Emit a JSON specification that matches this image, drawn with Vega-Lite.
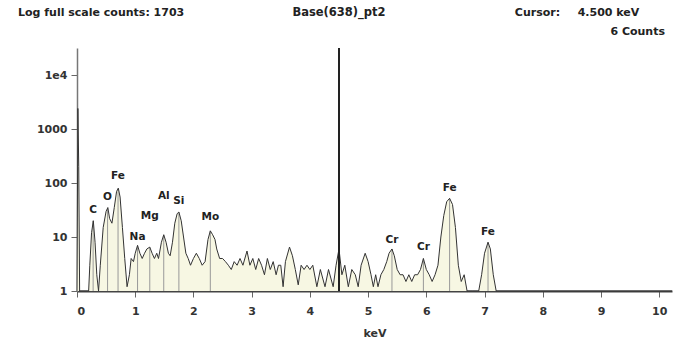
{
  "$schema": "https://vega.github.io/schema/vega-lite/v6.json",
  "width": 595,
  "height": 243,
  "autosize": {"type": "none"},
  "padding": {"left": 77, "top": 48, "right": 9, "bottom": 54},
  "background": "white",
  "config": {"view": {"stroke": null}, "font": "DejaVu Sans"},
  "datasets": {
    "spectrum": [
      {"e": 0.0, "c": 1}, {"e": 0.015, "c": 2400}, {"e": 0.03, "c": 200}, {"e": 0.045, "c": 1},
      {"e": 0.2, "c": 1}, {"e": 0.22, "c": 3}, {"e": 0.25, "c": 12}, {"e": 0.28, "c": 20}, {"e": 0.31, "c": 8},
      {"e": 0.34, "c": 2}, {"e": 0.37, "c": 1}, {"e": 0.4, "c": 3}, {"e": 0.45, "c": 15}, {"e": 0.5, "c": 30},
      {"e": 0.53, "c": 35}, {"e": 0.56, "c": 22}, {"e": 0.6, "c": 18}, {"e": 0.64, "c": 35}, {"e": 0.68, "c": 70},
      {"e": 0.71, "c": 80}, {"e": 0.74, "c": 55}, {"e": 0.78, "c": 15}, {"e": 0.82, "c": 4}, {"e": 0.86, "c": 1.2},
      {"e": 0.9, "c": 2}, {"e": 0.93, "c": 4}, {"e": 0.97, "c": 3.5}, {"e": 1.0, "c": 5}, {"e": 1.04, "c": 7},
      {"e": 1.08, "c": 5}, {"e": 1.12, "c": 4}, {"e": 1.16, "c": 5}, {"e": 1.2, "c": 6}, {"e": 1.25, "c": 6.5},
      {"e": 1.29, "c": 5}, {"e": 1.33, "c": 4}, {"e": 1.37, "c": 5}, {"e": 1.4, "c": 4}, {"e": 1.45, "c": 8},
      {"e": 1.49, "c": 11}, {"e": 1.53, "c": 8}, {"e": 1.57, "c": 5}, {"e": 1.6, "c": 4.5}, {"e": 1.64, "c": 8},
      {"e": 1.68, "c": 18}, {"e": 1.72, "c": 27}, {"e": 1.75, "c": 29}, {"e": 1.79, "c": 20}, {"e": 1.83, "c": 10},
      {"e": 1.87, "c": 5}, {"e": 1.91, "c": 4}, {"e": 1.95, "c": 3}, {"e": 2.0, "c": 4}, {"e": 2.05, "c": 5},
      {"e": 2.1, "c": 4}, {"e": 2.15, "c": 3}, {"e": 2.2, "c": 3.5}, {"e": 2.25, "c": 9}, {"e": 2.29, "c": 13},
      {"e": 2.33, "c": 11}, {"e": 2.37, "c": 9}, {"e": 2.4, "c": 6}, {"e": 2.45, "c": 4}, {"e": 2.5, "c": 4},
      {"e": 2.55, "c": 3.5}, {"e": 2.6, "c": 3}, {"e": 2.65, "c": 2.5}, {"e": 2.7, "c": 3.5}, {"e": 2.75, "c": 3},
      {"e": 2.8, "c": 4}, {"e": 2.85, "c": 3}, {"e": 2.92, "c": 5.5}, {"e": 2.97, "c": 3}, {"e": 3.02, "c": 4},
      {"e": 3.07, "c": 2.5}, {"e": 3.12, "c": 4}, {"e": 3.17, "c": 3}, {"e": 3.22, "c": 2}, {"e": 3.27, "c": 4},
      {"e": 3.32, "c": 2.5}, {"e": 3.37, "c": 3.5}, {"e": 3.42, "c": 2}, {"e": 3.46, "c": 3}, {"e": 3.5, "c": 3},
      {"e": 3.54, "c": 1.2}, {"e": 3.58, "c": 3.5}, {"e": 3.65, "c": 6.5}, {"e": 3.7, "c": 4.5}, {"e": 3.75, "c": 2.5},
      {"e": 3.8, "c": 1.3}, {"e": 3.85, "c": 3}, {"e": 3.9, "c": 2.5}, {"e": 3.95, "c": 3}, {"e": 4.0, "c": 2.5},
      {"e": 4.05, "c": 3}, {"e": 4.12, "c": 1.2}, {"e": 4.18, "c": 2.5}, {"e": 4.26, "c": 1.2}, {"e": 4.32, "c": 2.5},
      {"e": 4.4, "c": 1.2}, {"e": 4.45, "c": 3}, {"e": 4.5, "c": 6}, {"e": 4.55, "c": 2}, {"e": 4.6, "c": 3},
      {"e": 4.66, "c": 1.2}, {"e": 4.72, "c": 2.5}, {"e": 4.78, "c": 2}, {"e": 4.83, "c": 1.2}, {"e": 4.88, "c": 3},
      {"e": 4.95, "c": 5}, {"e": 5.0, "c": 3.5}, {"e": 5.05, "c": 2}, {"e": 5.09, "c": 1.2}, {"e": 5.13, "c": 2},
      {"e": 5.17, "c": 1.2}, {"e": 5.22, "c": 2}, {"e": 5.27, "c": 2.5}, {"e": 5.32, "c": 3.5}, {"e": 5.36, "c": 5},
      {"e": 5.41, "c": 6}, {"e": 5.45, "c": 4.5}, {"e": 5.5, "c": 2.5}, {"e": 5.55, "c": 2}, {"e": 5.6, "c": 2},
      {"e": 5.65, "c": 1.5}, {"e": 5.7, "c": 2}, {"e": 5.75, "c": 1.5}, {"e": 5.8, "c": 2}, {"e": 5.85, "c": 2},
      {"e": 5.9, "c": 2.5}, {"e": 5.95, "c": 4}, {"e": 6.0, "c": 2.5}, {"e": 6.05, "c": 2}, {"e": 6.1, "c": 1.5},
      {"e": 6.15, "c": 2}, {"e": 6.2, "c": 3}, {"e": 6.25, "c": 10}, {"e": 6.3, "c": 25}, {"e": 6.35, "c": 45},
      {"e": 6.4, "c": 52}, {"e": 6.45, "c": 40}, {"e": 6.5, "c": 15}, {"e": 6.55, "c": 3}, {"e": 6.6, "c": 1.5},
      {"e": 6.65, "c": 2}, {"e": 6.7, "c": 1}, {"e": 6.8, "c": 1}, {"e": 6.9, "c": 1}, {"e": 6.95, "c": 2},
      {"e": 7.0, "c": 5}, {"e": 7.06, "c": 8}, {"e": 7.1, "c": 6}, {"e": 7.15, "c": 2}, {"e": 7.2, "c": 1},
      {"e": 10.22, "c": 1}
    ],
    "peaks": [
      {"el": "C", "e": 0.277, "top": 20, "ly": 32},
      {"el": "O", "e": 0.525, "top": 35, "ly": 55},
      {"el": "Fe", "e": 0.705, "top": 80, "ly": 135},
      {"el": "Na", "e": 1.04, "top": 7, "ly": 10},
      {"el": "Mg", "e": 1.25, "top": 6.5, "ly": 25},
      {"el": "Al", "e": 1.49, "top": 11, "ly": 57},
      {"el": "Si", "e": 1.75, "top": 29, "ly": 46},
      {"el": "Mo", "e": 2.29, "top": 13, "ly": 23},
      {"el": "Cr", "e": 5.41, "top": 6, "ly": 8.8},
      {"el": "Cr", "e": 5.95, "top": 4, "ly": 6.5},
      {"el": "Fe", "e": 6.4, "top": 52, "ly": 81},
      {"el": "Fe", "e": 7.06, "top": 8, "ly": 12.4}
    ],
    "one": [{"k": 1}]
  },
  "layer": [
    {
      "data": {"name": "spectrum"},
      "mark": {"type": "area", "color": "#f7f7e3", "orient": "vertical"},
      "encoding": {
        "x": {
          "field": "e", "type": "quantitative",
          "scale": {"domain": [0, 10.22], "nice": false, "zero": false},
          "axis": {
            "title": "keV", "values": [0,1,2,3,4,5,6,7,8,9,10], "format": "d",
            "grid": false, "domainColor": "#444", "domainWidth": 2,
            "tickColor": "#666", "tickSize": 6, "labelPadding": 8,
            "labelFontSize": 11, "labelColor": "#333", "labelFontWeight": "bold",
            "titleFontSize": 11, "titleColor": "#333", "titleFontWeight": "bold", "titlePadding": 11
          }
        },
        "y": {
          "field": "c", "type": "quantitative", "stack": null,
          "scale": {"type": "log", "domain": [1, 31623], "nice": false},
          "axis": {
            "title": null, "values": [1, 10, 100, 1000, 10000],
            "labelExpr": "datum.value == 10000 ? '1e4' : format(datum.value, 'd')",
            "grid": false, "domainColor": "#777", "domainWidth": 1.5,
            "tickColor": "#666", "tickSize": 6, "labelPadding": 4,
            "labelFontSize": 11, "labelColor": "#333", "labelFontWeight": "bold"
          }
        },
        "y2": {"datum": 1}
      }
    },
    {
      "data": {"name": "peaks"},
      "mark": {"type": "rule", "color": "#999", "strokeWidth": 1},
      "encoding": {
        "x": {"field": "e", "type": "quantitative"},
        "y": {"field": "top", "type": "quantitative"},
        "y2": {"datum": 1}
      }
    },
    {
      "data": {"name": "spectrum"},
      "mark": {"type": "line", "color": "#333", "strokeWidth": 1},
      "encoding": {
        "x": {"field": "e", "type": "quantitative"},
        "y": {"field": "c", "type": "quantitative"}
      }
    },
    {
      "data": {"name": "one"},
      "mark": {"type": "rule", "color": "#222", "strokeWidth": 2},
      "encoding": {"x": {"datum": 4.5, "type": "quantitative"}}
    },
    {
      "data": {"name": "peaks"},
      "mark": {"type": "text", "fontSize": 10.5, "fontWeight": "bold", "color": "#222", "baseline": "middle"},
      "encoding": {
        "x": {"field": "e", "type": "quantitative"},
        "y": {"field": "ly", "type": "quantitative"},
        "text": {"field": "el"}
      }
    },
    {
      "data": {"name": "one"},
      "mark": {"type": "text", "fontSize": 11, "fontWeight": "bold", "color": "#222", "align": "left", "baseline": "middle"},
      "encoding": {"x": {"datum": -1.013, "type": "quantitative"}, "y": {"datum": 140000, "type": "quantitative"}, "text": {"value": "Log full scale counts: 1703"}}
    },
    {
      "data": {"name": "one"},
      "mark": {"type": "text", "fontSize": 11.5, "fontWeight": "bold", "color": "#222", "align": "center", "baseline": "middle"},
      "encoding": {"x": {"datum": 4.5, "type": "quantitative"}, "y": {"datum": 140000, "type": "quantitative"}, "text": {"value": "Base(638)_pt2"}}
    },
    {
      "data": {"name": "one"},
      "mark": {"type": "text", "fontSize": 11, "fontWeight": "bold", "color": "#222", "align": "left", "baseline": "middle"},
      "encoding": {"x": {"datum": 7.52, "type": "quantitative"}, "y": {"datum": 140000, "type": "quantitative"}, "text": {"value": "Cursor:"}}
    },
    {
      "data": {"name": "one"},
      "mark": {"type": "text", "fontSize": 11, "fontWeight": "bold", "color": "#222", "align": "left", "baseline": "middle"},
      "encoding": {"x": {"datum": 8.6, "type": "quantitative"}, "y": {"datum": 140000, "type": "quantitative"}, "text": {"value": "4.500 keV"}}
    },
    {
      "data": {"name": "one"},
      "mark": {"type": "text", "fontSize": 11, "fontWeight": "bold", "color": "#222", "align": "right", "baseline": "middle"},
      "encoding": {"x": {"datum": 10.1, "type": "quantitative"}, "y": {"datum": 62500, "type": "quantitative"}, "text": {"value": "6 Counts"}}
    }
  ]
}
